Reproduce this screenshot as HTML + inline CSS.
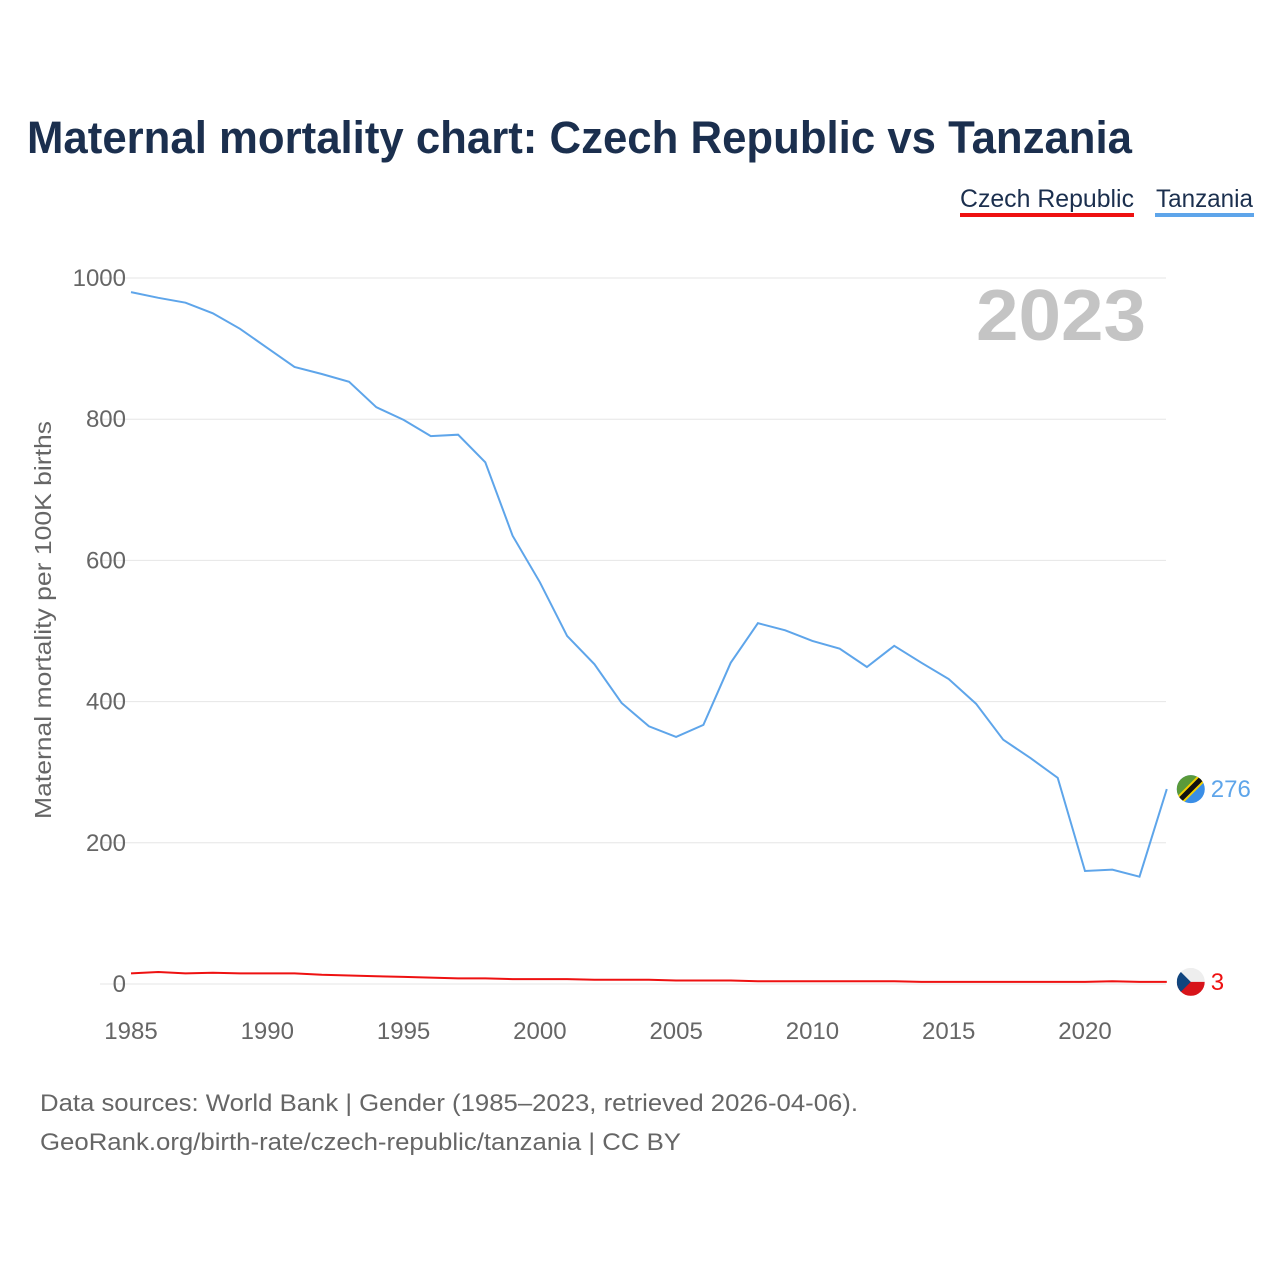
<!DOCTYPE html>
<html><head><meta charset="utf-8"><style>
body{margin:0;background:#fff;font-family:"Liberation Sans",sans-serif}
#wrap{position:relative;width:1280px;height:1280px}
</style></head><body>
<div id="wrap">
<svg id="chart" width="1280" height="1280">
<text x="27" y="153" font-size="45" font-weight="bold" fill="#1b2f4e" textLength="1105" lengthAdjust="spacingAndGlyphs">Maternal mortality chart: Czech Republic vs Tanzania</text>
<g><text x="960" y="207" font-size="25" fill="#1b2f4e" textLength="174" lengthAdjust="spacingAndGlyphs">Czech Republic</text><rect x="960" y="213" width="174" height="4" fill="#ee1111"/></g>
<g><text x="1156" y="207" font-size="25" fill="#1b2f4e" textLength="97" lengthAdjust="spacingAndGlyphs">Tanzania</text><rect x="1155" y="213" width="99" height="4" fill="#5ea5ea"/></g>
<text x="1146" y="340" font-size="72" font-weight="bold" fill="#c4c4c4" text-anchor="end" textLength="170" lengthAdjust="spacingAndGlyphs">2023</text>
<text transform="translate(51,620) rotate(-90)" font-size="23" fill="#666" text-anchor="middle" textLength="398" lengthAdjust="spacingAndGlyphs">Maternal mortality per 100K births</text>
<g id="grid"></g><g id="series"></g>
<text x="40" y="1111" font-size="24" fill="#666" textLength="818" lengthAdjust="spacingAndGlyphs">Data sources: World Bank | Gender (1985–2023, retrieved 2026-04-06).</text>
<text x="40" y="1150" font-size="24" fill="#666" textLength="641" lengthAdjust="spacingAndGlyphs">GeoRank.org/birth-rate/czech-republic/tanzania | CC BY</text>
</svg></div>
<script>
const years=[];for(let y=1985;y<=2023;y++)years.push(y);
const tanzania=[980,972,965,950,928,901,874,864,853,817,799,776,778,739,635,569,493,453,398,365,350,367,455,511,501,486,475,449,479,455,432,397,346,320,292,160,162,152,276];
const czech=[15,17,15,16,15,15,15,13,12,11,10,9,8,8,7,7,7,6,6,6,5,5,5,4,4,4,4,4,4,3,3,3,3,3,3,3,4,3,3];
const yTicks=[0,200,400,600,800,1000];
const xTicks=[1985,1990,1995,2000,2005,2010,2015,2020];
const NS="http://www.w3.org/2000/svg";
const xs=y=>131+(y-1985)*(1085-131)/35;
const ys=v=>984-v*0.706;
const grid=document.getElementById('grid'),ser=document.getElementById('series');
function mk(tag,attrs,parent){const e=document.createElementNS(NS,tag);for(const k in attrs)e.setAttribute(k,attrs[k]);parent.appendChild(e);return e;}
yTicks.forEach(v=>{
 const l=mk('line',{x1:100,x2:1166,y1:ys(v),y2:ys(v),stroke:'#e6e6e6','stroke-width':1},grid);
 
 
 const t=mk('text',{x:126,y:ys(v)+8,'font-size':24,fill:'#666','text-anchor':'end'},grid);t.textContent=v;
 
 
});
xTicks.forEach(v=>{
 const t=mk('text',{x:xs(v),y:1039,'font-size':24,fill:'#666','text-anchor':'middle'},grid);t.textContent=v;
 
 
});
function line(data,color,name){
 const d=data.map((v,i)=>(i?'L':'M')+xs(years[i]).toFixed(1)+','+ys(v).toFixed(1)).join('');
 const p=mk('path',{d:d,fill:'none',stroke:color,'stroke-width':2},ser);
 
 
}
line(tanzania,'#5ea5ea','tanzania-line');
line(czech,'#ee1111','czech-line');
const lx=xs(2023)+24;
const ty=ys(tanzania[tanzania.length-1]);
const tf=mk('g',{},ser);


mk('clipPath',{id:'ct'},tf).appendChild(document.createElementNS(NS,'circle'));
const tc=tf.querySelector('circle');tc.setAttribute('cx',lx);tc.setAttribute('cy',ty);tc.setAttribute('r',14);
mk('circle',{cx:lx,cy:ty,r:14,fill:'#3a8ee6'},tf);
mk('path',{d:`M${lx-14},${ty+14}L${lx-14},${ty-14}L${lx+14},${ty-14}Z`,fill:'#5a9a3a','clip-path':'url(#ct)'},tf);
mk('line',{x1:lx-14,y1:ty+14,x2:lx+14,y2:ty-14,stroke:'#f5d000','stroke-width':9,'clip-path':'url(#ct)'},tf);
mk('line',{x1:lx-14,y1:ty+14,x2:lx+14,y2:ty-14,stroke:'#111','stroke-width':5,'clip-path':'url(#ct)'},tf);
const tl=mk('text',{x:lx+20,y:ty+8,'font-size':24,fill:'#5ea5ea'},ser);tl.textContent=tanzania[tanzania.length-1];


const cy=ys(czech[czech.length-1]);
const cf=mk('g',{},ser);


mk('clipPath',{id:'cc'},cf).appendChild(document.createElementNS(NS,'circle'));
const cc=cf.querySelector('circle');cc.setAttribute('cx',lx);cc.setAttribute('cy',cy);cc.setAttribute('r',14);
mk('rect',{x:lx-14,y:cy-14,width:28,height:14,fill:'#eeeeee','clip-path':'url(#cc)'},cf);
mk('rect',{x:lx-14,y:cy,width:28,height:14,fill:'#d7141a','clip-path':'url(#cc)'},cf);
mk('path',{d:`M${lx-14},${cy-14}L${lx},${cy}L${lx-14},${cy+14}Z`,fill:'#11457e','clip-path':'url(#cc)'},cf);
const cl=mk('text',{x:lx+20,y:cy+8,'font-size':24,fill:'#ee1111'},ser);cl.textContent=czech[czech.length-1];


</script>
</body></html>
